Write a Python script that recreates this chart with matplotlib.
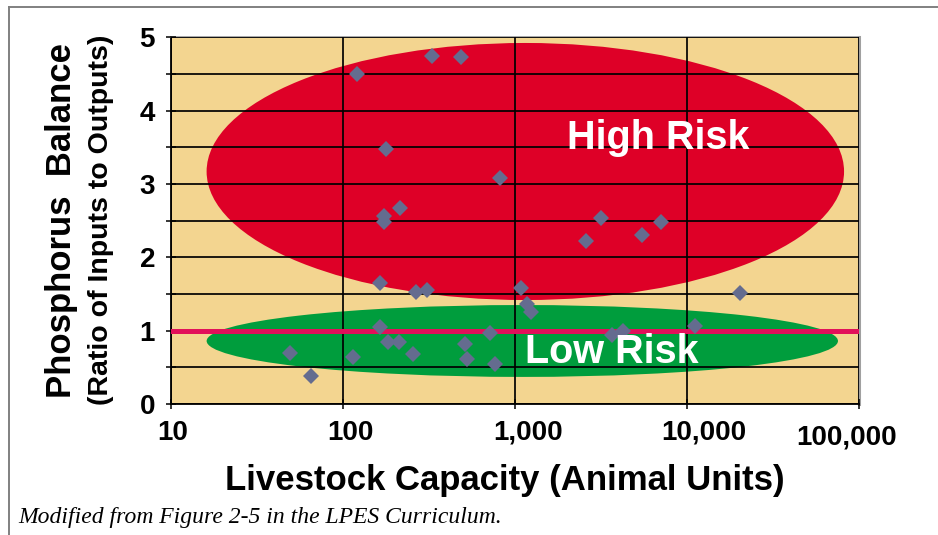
import matplotlib
matplotlib.use('Agg')
import matplotlib.pyplot as plt
import matplotlib.transforms as mtransforms
from matplotlib.patches import Ellipse
from matplotlib.lines import Line2D
from matplotlib.ticker import NullLocator

# -----------------------------------------------------------
# farm data
animal_units = [120, 329, 485, 178, 818, 214, 174, 173,
                165, 267, 307, 1080, 1170, 1240,
                3180, 2575, 5460, 7100, 20200, 11200, 3660, 4250,
                163, 183, 213, 49, 65, 114, 256, 512, 528, 716, 769]
p_balance    = [4.50, 4.75, 4.73, 3.47, 3.08, 2.67, 2.57, 2.48,
                1.65, 1.53, 1.55, 1.58, 1.36, 1.25,
                2.53, 2.22, 2.30, 2.48, 1.52, 1.07, 0.94, 1.00,
                1.05, 0.85, 0.84, 0.70, 0.38, 0.64, 0.68, 0.82, 0.61, 0.97, 0.55]

x_ticks  = [10, 100, 1000, 10000, 100000]
x_labels = ['10', '100', '1,000', '10,000', '100,000']
y_ticks  = [0, 0.5, 1, 1.5, 2, 2.5, 3, 3.5, 4, 4.5, 5]
y_labels = ['0', '', '1', '', '2', '', '3', '', '4', '', '5']
threshold = 1.0

SANS = 'Liberation Sans'
BG    = '#F3D590'
RED   = '#DE0027'
GREEN = '#009D3D'
PINK  = '#E2105A'
DOT   = '#646C8F'

fig = plt.figure(figsize=(9.38, 5.35), dpi=100)
ax  = fig.add_axes([0.1823, 0.2449, 0.7335, 0.6854])
ax.set_facecolor(BG)

ax.set_xscale('log')
ax.set_xlim(10, 100000)
ax.set_ylim(0, 5)

# risk zones (drawn in axes fraction so they stay elliptical on log axis)
ax.add_patch(Ellipse((0.515, 0.634), 0.9265, 0.701, transform=ax.transAxes,
                     facecolor=RED, edgecolor='none', zorder=1))
ax.add_patch(Ellipse((0.5106, 0.1718), 0.9176, 0.196, transform=ax.transAxes,
                     facecolor=GREEN, edgecolor='none', zorder=1))

# grid
ax.set_xticks(x_ticks)
ax.set_yticks(y_ticks)
ax.xaxis.set_minor_locator(NullLocator())
ax.grid(True, color='black', linewidth=1.25, zorder=2)
ax.set_axisbelow(False)
for gl in ax.get_xgridlines() + ax.get_ygridlines():
    gl.set_zorder(2)

ax.axhline(threshold, color=PINK, linewidth=3.6, zorder=3)

ax.plot(animal_units, p_balance, linestyle='none', marker='D',
        markersize=8.5, color=DOT, markeredgewidth=0, zorder=4)

# zone labels
ax.text(0.708, 0.6946, 'High Risk', transform=ax.transAxes, ha='center',
        va='baseline', color='white', fontsize=28.5, fontweight='bold',
        family=SANS, zorder=5)
ax.text(0.640, 0.111, 'Low Risk', transform=ax.transAxes, ha='center',
        va='baseline', color='white', fontsize=28.5, fontweight='bold',
        family=SANS, zorder=5)

# ticks and labels
ax.set_xticklabels(x_labels)
ax.set_yticklabels(y_labels)
ax.tick_params(axis='both', direction='inout', length=7, width=1.1,
               colors='black', labelsize=20)
ax.tick_params(axis='x', pad=8)
ax.tick_params(axis='y', pad=8)
for lab in ax.get_xticklabels() + ax.get_yticklabels():
    lab.set_fontfamily(SANS)
    lab.set_fontweight('bold')

dx = [2, 7, 13, 17, -12]
dy = [0, 0, 0, 0, -5]
for lab, ox, oy in zip(ax.get_xticklabels(), dx, dy):
    lab.set_transform(lab.get_transform() +
                      mtransforms.ScaledTranslation(ox / 100, oy / 100, fig.dpi_scale_trans))

for side in ['left', 'bottom']:
    ax.spines[side].set_color('black')
    ax.spines[side].set_linewidth(1.3)
ax.spines['top'].set_color('#A0A0A0')
ax.spines['top'].set_linewidth(1.3)
ax.spines['right'].set_color('#A0A0A0')
ax.spines['right'].set_linewidth(2.2)

fig.text(0.0656, 0.587, 'Phosphorus  Balance', rotation=90, ha='center',
         va='center', fontsize=25, fontweight='bold', family=SANS)
fig.text(0.1077, 0.5897, '(Ratio of Inputs to Outputs)', rotation=90,
         ha='center', va='center', fontsize=20.5, fontweight='bold', family=SANS)
fig.text(0.538, 0.0841, 'Livestock Capacity (Animal Units)', ha='center',
         va='baseline', fontsize=25, fontweight='bold', family=SANS)
fig.text(0.0192, 0.0224, 'Modified from Figure 2-5 in the LPES Curriculum.',
         ha='left', va='baseline', fontsize=17, style='italic',
         family='Liberation Serif')

# outer frame (left and top edges only are visible)
fig.add_artist(Line2D([9.3 / 938, 9.3 / 938], [0, 1 - 7.3 / 535],
                      transform=fig.transFigure, color='#808080', linewidth=1.4))
fig.add_artist(Line2D([9.3 / 938, 1], [1 - 7.3 / 535, 1 - 7.3 / 535],
                      transform=fig.transFigure, color='#808080', linewidth=1.4))

fig.savefig('out.png', dpi=100)
